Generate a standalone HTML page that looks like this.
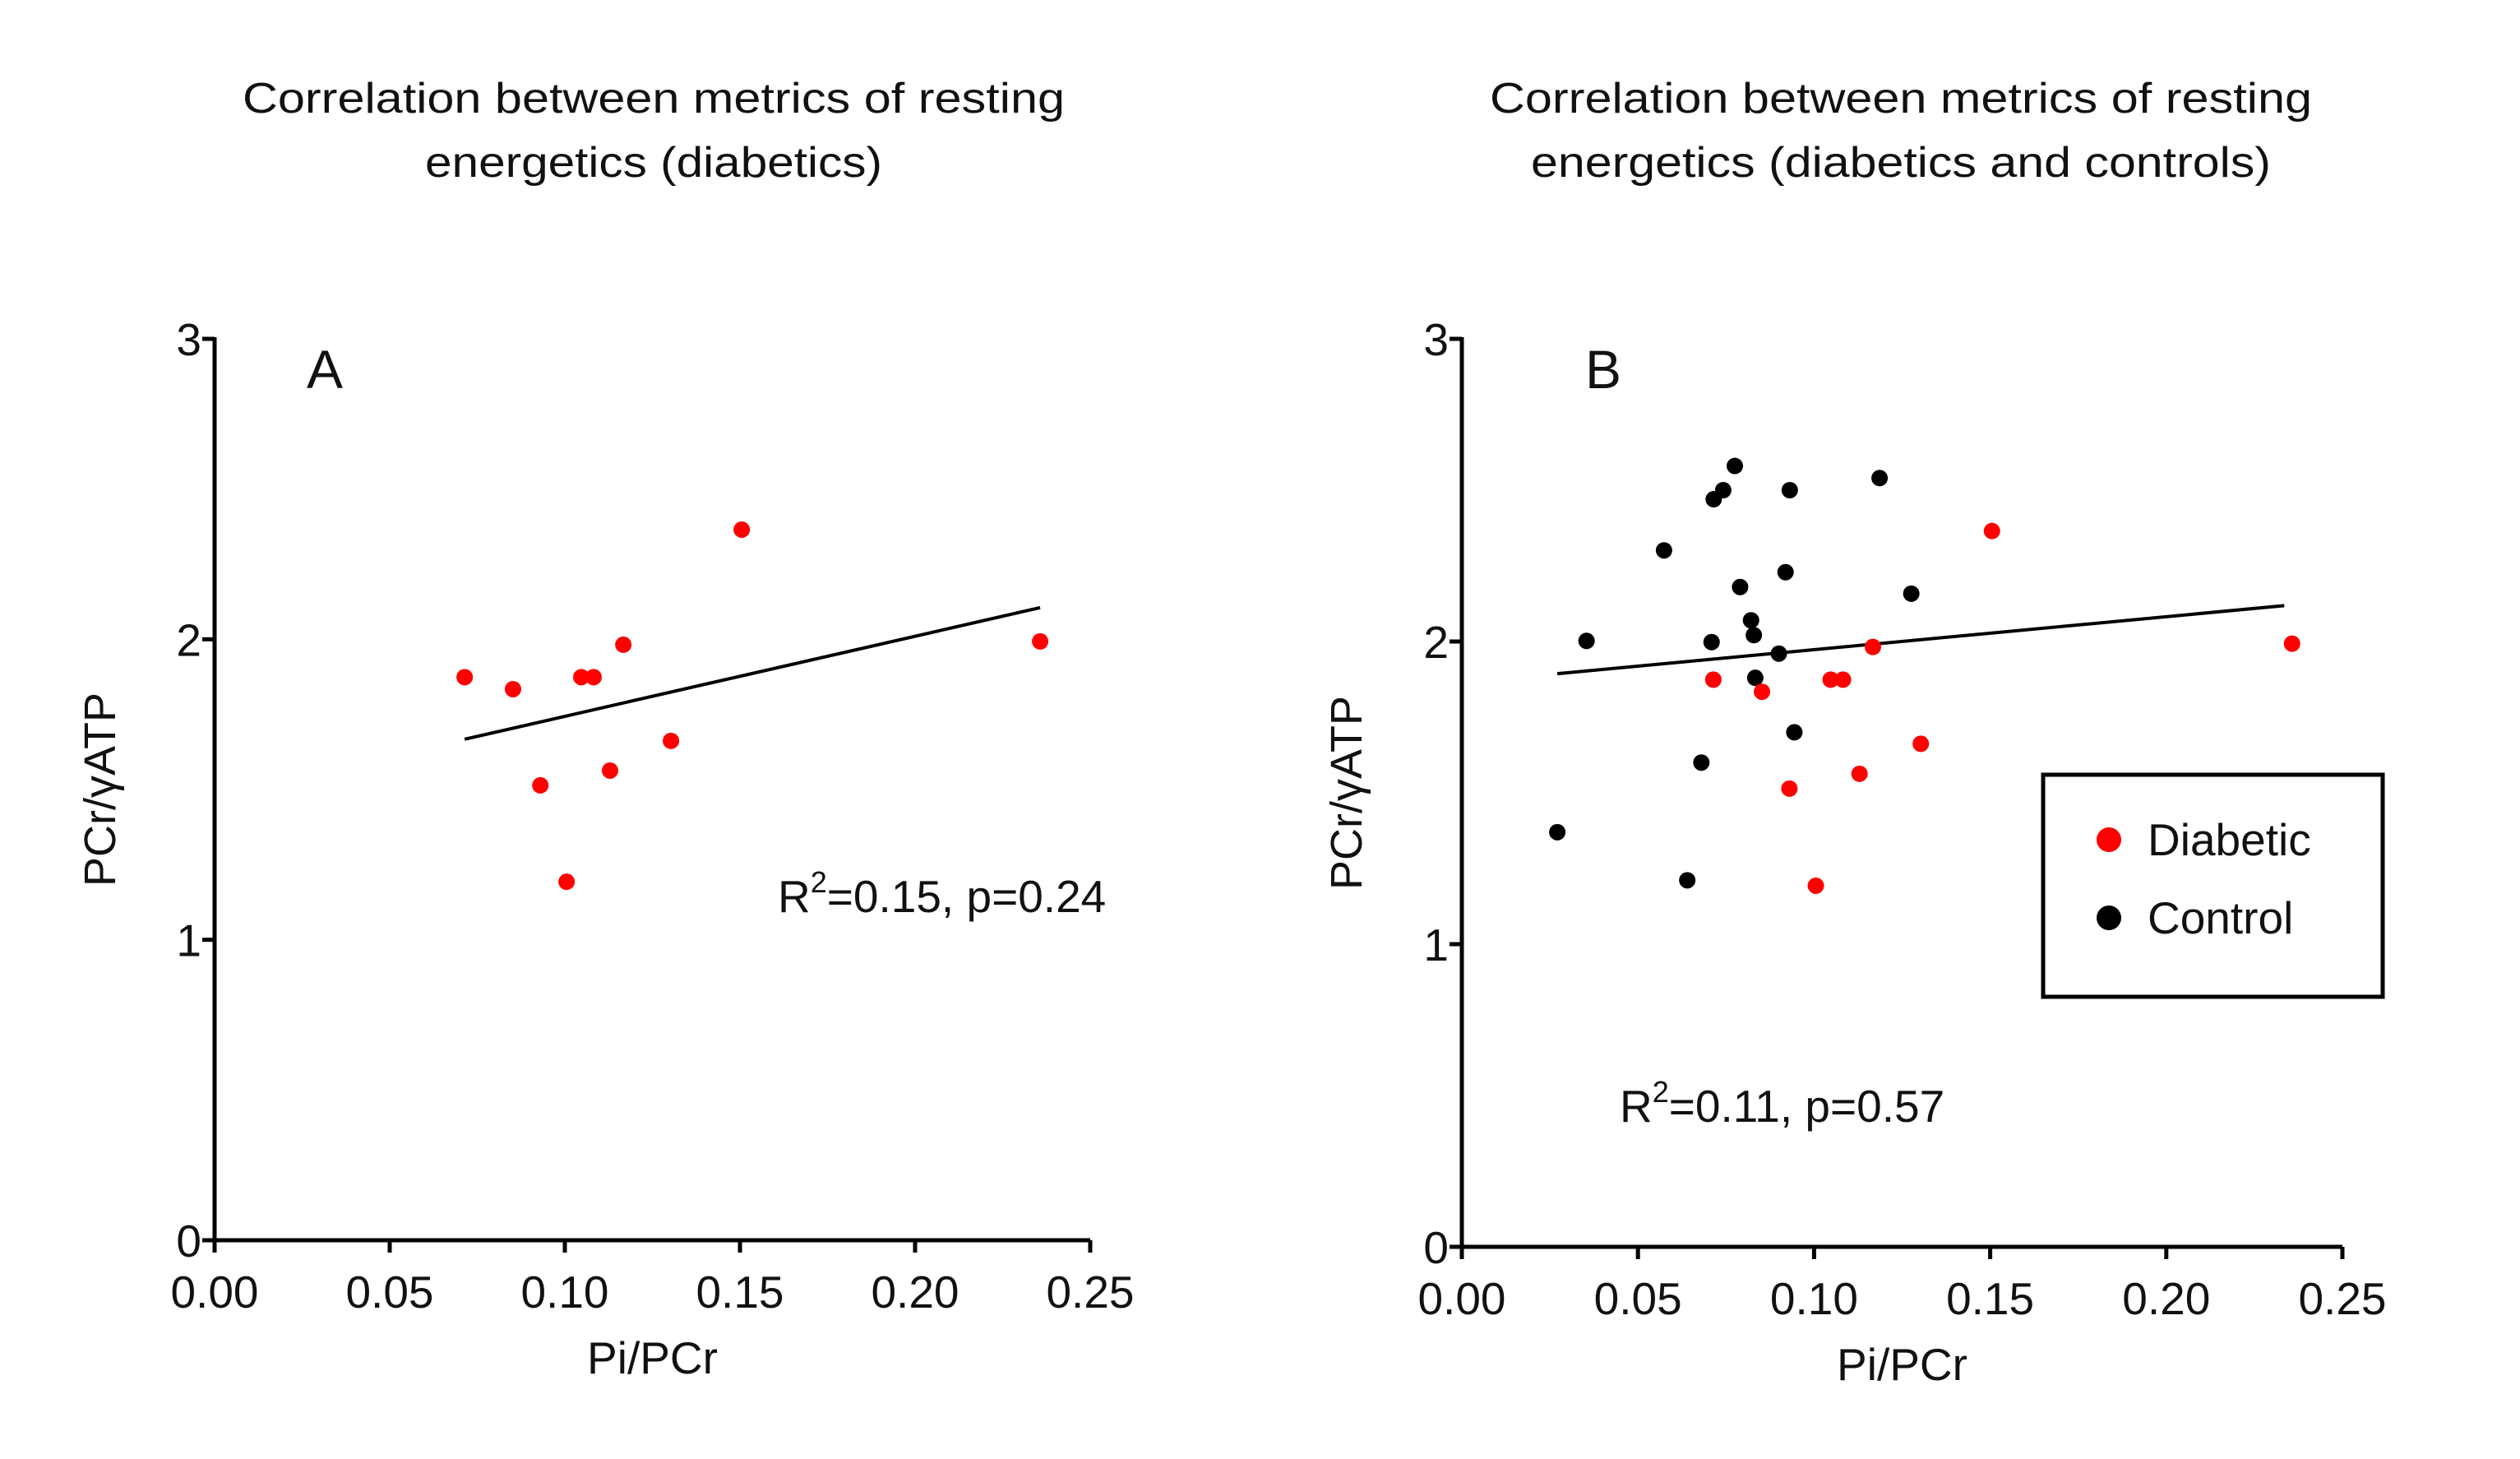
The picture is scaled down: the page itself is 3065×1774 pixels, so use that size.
<!DOCTYPE html>
<html><head><meta charset="utf-8"><style>
html,body{margin:0;padding:0;background:#fff;}
svg{display:block;font-family:"Liberation Sans",sans-serif;}
</style></head><body>
<svg id="chart" width="3065" height="1774" viewBox="0 0 3065 1774" xmlns="http://www.w3.org/2000/svg">
<rect width="3065" height="1774" fill="#fff"/>
</svg>
<script>
const diabeticX = [0.0714,0.0852,0.0930,0.1005,0.1047,0.1082,0.1129,0.1167,0.1303,0.1505,0.2357];
const diabeticY = [1.874,1.834,1.514,1.193,1.874,1.874,1.563,1.982,1.662,2.365,1.993];
const controlX = [0.0271,0.0354,0.0574,0.0640,0.0680,0.0709,0.0715,0.0742,0.0775,0.0790,0.0821,0.0829,0.0833,0.0900,0.0919,0.0931,0.0944,0.1186,0.1276];
const controlY = [1.370,2.002,2.301,1.211,1.600,1.998,2.470,2.500,2.580,2.180,2.070,2.021,1.880,1.960,2.229,2.500,1.700,2.540,2.158];
const fitA = [2.666, 1.477];
const fitARange = [0.0714, 0.2357];
const fitB = [1.090, 1.864];
const fitBRange = [0.0271, 0.2335];
const xTicks = [0, 0.05, 0.10, 0.15, 0.20, 0.25];
const xTickLabels = ["0.00","0.05","0.10","0.15","0.20","0.25"];
const yTicks = [0, 1, 2, 3];
const yTickLabels = ["0","1","2","3"];

const NS = "http://www.w3.org/2000/svg";
const svg = document.getElementById('chart');
function mk(tag, attrs, parent){
  const e = document.createElementNS(NS, tag);
  for (const k in attrs) e.setAttribute(k, attrs[k]);
  (parent||svg).appendChild(e);
  return e;
}

function panel(p){
  const g = mk('g', {});
  
  
  const sx = v => p.x0 + (v/0.25)*(p.x1-p.x0);
  const sy = v => p.y0 - (v/3)*(p.y0-p.y3);

  p.title.forEach((t,i)=>{
    const tt = mk('text', {x:p.tcx, y:p.tY[i], 'text-anchor':'middle','font-size':52, textLength:p.tLen[i], lengthAdjust:'spacingAndGlyphs', fill:'#111'}, g);
    tt.textContent = t;
    
    
  });

  const ax = mk('path', {d:`M${p.x0},${p.y3-2} V${p.y0} H${p.x1}`, stroke:'#000','stroke-width':5, fill:'none'}, g);
  
  

  xTicks.forEach((v,i)=>{
    const X = sx(v);
    const tk = mk('line', {x1:X, x2:X, y1:p.y0, y2:p.y0+15, stroke:'#000','stroke-width':5}, g);
    
    
    const lb = mk('text', {x:X, y:p.y0+82, 'text-anchor':'middle','font-size':55, fill:'#111'}, g);
    lb.textContent = xTickLabels[i];
    
    
  });
  yTicks.forEach((v,i)=>{
    const Y = sy(v);
    const tk = mk('line', {x1:p.x0-15, x2:p.x0, y1:Y, y2:Y, stroke:'#000','stroke-width':5}, g);
    
    
    const lb = mk('text', {x:p.x0-16, y:Y+20, 'text-anchor':'end','font-size':55, fill:'#111'}, g);
    lb.textContent = yTickLabels[i];
    
    
  });

  const xl = mk('text', {x:(p.x0+p.x1)/2, y:p.y0+162, 'text-anchor':'middle','font-size':55, fill:'#111'}, g);
  xl.textContent = 'Pi/PCr';
  
  

  const yl = mk('text', {x:0, y:0, 'text-anchor':'middle','font-size':54, fill:'#111', transform:`translate(${p.ylx},${(p.y0+p.y3)/2}) rotate(-90)`}, g);
  yl.textContent = 'PCr/γATP';
  
  

  const pl = mk('text', {x:p.labX, y:p.y3+60, 'font-size':66, fill:'#111'}, g);
  pl.textContent = p.letter;
  
  

  const [m,b] = p.fit;
  const fl = mk('line', {x1:sx(p.fitR[0]), y1:sy(m*p.fitR[0]+b), x2:sx(p.fitR[1]), y2:sy(m*p.fitR[1]+b), stroke:'#000','stroke-width':4}, g);
  
  

  if (p.control){
    controlX.forEach((v,i)=>{
      const c = mk('circle', {cx:sx(v), cy:sy(controlY[i]), r:10, fill:'#000'}, g);
      
      
    });
  }
  diabeticX.forEach((v,i)=>{
    const c = mk('circle', {cx:sx(v), cy:sy(diabeticY[i]), r:10, fill:'#f00'}, g);
    
    
  });

  const an = mk('text', {x:p.annX, y:p.annY, 'font-size':55, fill:'#111'}, g);
  
  
  const t1 = mk('tspan', {}, an); t1.textContent = 'R';
  const t2 = mk('tspan', {dy:-24, 'font-size':36}, an); t2.textContent = '2';
  const t3 = mk('tspan', {dy:24}, an); t3.textContent = p.ann;
}

panel({name:'panel-a', x0:261, x1:1326, y0:1508, y3:412, tcx:795, tY:[137,215], tLen:[1000,556],
  title:['Correlation between metrics of resting','energetics (diabetics)'], ylx:140, labX:373,
  letter:'A', fit:fitA, fitR:fitARange, control:false, annX:946, annY:1109, ann:'=0.15, p=0.24'});
panel({name:'panel-b', x0:1778, x1:2849, y0:1516, y3:412, tcx:2312, tY:[137,215], tLen:[1000,900],
  title:['Correlation between metrics of resting','energetics (diabetics and controls)'], ylx:1656, labX:1928,
  letter:'B', fit:fitB, fitR:fitBRange, control:true, annX:1970, annY:1364, ann:'=0.11, p=0.57'});

const lg = mk('g', {});


const box = mk('rect', {x:2485, y:942, width:413, height:270, fill:'none', stroke:'#000','stroke-width':5}, lg);


const entries = [['Diabetic','#f00',1021],['Control','#000',1116]];
entries.forEach(e=>{
  const c = mk('circle', {cx:2565, cy:e[2], r:15, fill:e[1]}, lg);
  
  
  const t = mk('text', {x:2612, y:e[2]+19, 'font-size':55, fill:'#111'}, lg);
  t.textContent = e[0];
  
  
});
</script>
</body></html>
